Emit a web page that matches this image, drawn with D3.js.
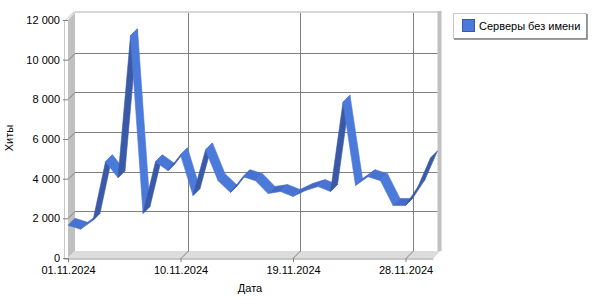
<!DOCTYPE html>
<html><head><meta charset="utf-8">
<script src="https://cdn.jsdelivr.net/npm/d3@7"></script>
<style>body{margin:0;background:#fff}svg{display:block}text{font-family:"Liberation Sans",Arial,sans-serif;font-size:11px;fill:#000}</style>
</head><body><svg id="c" width="600" height="300"></svg>
<script>
const dates = ["01.11.2024","02.11.2024","03.11.2024","04.11.2024","05.11.2024","06.11.2024","07.11.2024","08.11.2024","09.11.2024","10.11.2024","11.11.2024","12.11.2024","13.11.2024","14.11.2024","15.11.2024","16.11.2024","17.11.2024","18.11.2024","19.11.2024","20.11.2024","21.11.2024","22.11.2024","23.11.2024","24.11.2024","25.11.2024","26.11.2024","27.11.2024","28.11.2024","29.11.2024","30.11.2024"];
const hits = [1650,1450,1900,4850,4050,11200,2250,4850,4400,5200,3150,5450,3900,3300,4100,3900,3250,3350,3100,3400,3600,3350,7850,3650,4100,3900,2650,2650,3600,5050];
const xTickLabels = ["01.11.2024","10.11.2024","19.11.2024","28.11.2024"];
const yTicks = [0,2000,4000,6000,8000,10000,12000];
const seriesName = "Серверы без имени";
const yTitle = "Хиты", xTitle = "Дата";

const svg = d3.select("#c");
const DX = 7, DY = -7;
const x = d3.scalePoint().domain(dates).range([68, 430.5]);
const y = d3.scaleLinear().domain([0, 12000]).range([258, 20]);
const L = 68, R = 430.5, T = y(12000), B = y(0);
const fmt = d3.formatLocale({thousands: " ", grouping: [3], decimal: ","}).format(",d");

// walls
const g = svg.append("g");
g.append("path").attr("d", `M64.5,${T+1}L64.5,${B+1.5}L${R+3},${B+1.5}`).attr("fill","none").attr("stroke","#c8c8c8");
g.append("path").attr("d", `M64.5,${T+1}L${L+DX-1},${T+DY-1}`).attr("stroke","#c8c8c8").attr("fill","none");
g.append("polygon").attr("points", [[L,T],[L+DX,T+DY-2],[R+DX+4,T+DY-2],[R+DX+4,T+DY],[L+DX,T+DY],[L,T+1]].join(" ")).attr("fill","#d6d6d6");
g.append("polygon").attr("points", [[L,T],[L+DX,T+DY],[L+DX,B+DY],[L,B]].join(" ")).attr("fill","#c0c0c0");
g.append("polygon").attr("points", [[L,B],[L+DX,B+DY],[R+DX+3,B+DY],[R+3,B]].join(" ")).attr("fill","#dcdcdc");
g.append("line").attr("x1",L).attr("x2",R+3).attr("y1",B+0.5).attr("y2",B+0.5).attr("stroke","#c4c4c4");
g.append("rect").attr("x", R+DX).attr("y", T+DY-2).attr("width", 4).attr("height", B - T + 2).attr("fill","#c0c0c0");

// gridlines
const grid = svg.append("g").attr("stroke","#808080").attr("fill","none");
yTicks.filter(v => v > 0 && v < 12000).forEach(v => {
  const yy = Math.round(y(v)) + 0.5;
  grid.append("path").attr("d", `M${L},${yy}L${L+DX},${yy+DY}L${R+DX},${yy+DY}`);
});
xTickLabels.slice(1).forEach(d => {
  const xx = Math.round(x(d)) + 0.5;
  grid.append("path").attr("d", `M${xx+DX},${T+DY}L${xx+DX},${B+DY}L${xx},${B}`);
});

// axes
const ya = svg.append("g").attr("transform", `translate(${L},0)`)
  .call(d3.axisLeft(y).tickValues(yTicks).tickSize(5).tickPadding(3).tickFormat(fmt));
ya.select(".domain").remove();
ya.selectAll(".tick line").attr("stroke","#808080");
ya.selectAll("text").style("font-size","11px").attr("fill","#000").style("font-family","Liberation Sans, Arial, sans-serif");
const xa = svg.append("g").attr("transform", `translate(0,${B})`)
  .call(d3.axisBottom(x).tickValues(xTickLabels).tickSize(4).tickPadding(4));
xa.select(".domain").remove();
xa.selectAll(".tick line").attr("stroke","#808080");
xa.selectAll("text").style("font-size","11px").attr("fill","#000").style("font-family","Liberation Sans, Arial, sans-serif");

// ribbon
const light = d3.color("#4b7ada"), mid = d3.color("#4469c6"), dark = d3.color("#3a5aa8");
const rib = svg.append("g");
for (let i = 0; i < dates.length - 1; i++) {
  const x0 = x(dates[i]), y0 = y(hits[i]), x1 = x(dates[i+1]), y1 = y(hits[i+1]);
  const vx = x1 - x0, vy = y1 - y0;
  const cross = vx * DY - vy * DX;
  let col;
  if (cross > 0) col = dark;
  else {
    const ang = Math.atan2(vy, vx);
    const t = Math.max(0, Math.min(1, (ang + 0.2) / 1.0));
    col = d3.interpolateRgb(mid, light)(t);
  }
  rib.append("polygon")
    .attr("points", [[x0,y0],[x1,y1],[x1+DX,y1+DY],[x0+DX,y0+DY]].join(" "))
    .attr("fill", col).attr("stroke", col).attr("stroke-width", 0.6).attr("stroke-linejoin","round");
}

// titles
svg.append("text").attr("x", 250).attr("y", 292).attr("text-anchor","middle").text(xTitle);
svg.append("text").attr("transform","translate(13,138) rotate(-90)").attr("text-anchor","middle").text(yTitle);

// legend
const lg = svg.append("g");
lg.append("rect").attr("x",453.5).attr("y",13.5).attr("width",133).attr("height",25).attr("fill","#fff").attr("stroke","#c8c8c8");
lg.append("path").attr("d","M587,14L587,39L454,39").attr("stroke","#808080").attr("fill","none").attr("stroke-width",1.5);
lg.append("rect").attr("x",462.5).attr("y",19.5).attr("width",12).attr("height",12).attr("fill","#4b7ada").attr("stroke","#3a5aa8");
lg.append("text").attr("x",479).attr("y",30).text(seriesName);
</script></body></html>
